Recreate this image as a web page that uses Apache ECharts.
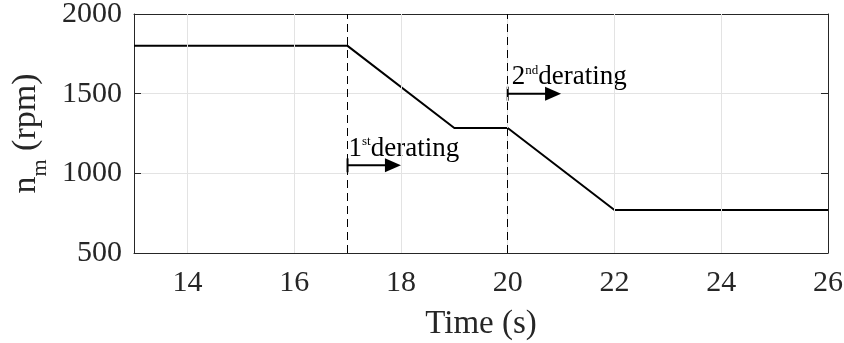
<!DOCTYPE html>
<html>
<head>
<meta charset="utf-8">
<script src="https://cdn.jsdelivr.net/npm/echarts@6/dist/echarts.min.js"></script>
<style>
  html, body { margin: 0; padding: 0; background: #fff; }
  #chart { width: 844px; height: 343px; }
</style>
</head>
<body>
<div id="chart"></div>
<script>
// Motor speed profile with two derating steps
const time = [13, 17, 19, 20, 22, 26];
const speed = [1800, 1800, 1285, 1285, 770, 770];

// Derating events: start time, arrow end time, arrow level (rpm)
const deratingStart = [17, 20];
const deratingArrowEnd = [18, 21];
const deratingArrowLevel = [1050, 1500];
const deratingOrdinal = ['1', '2'];
const deratingSuffix = ['st', 'nd'];

const xTicks = [14, 16, 18, 20, 22, 24, 26];
const yTicks = [500, 1000, 1500, 2000];

const FONT = '"Liberation Serif", "Times New Roman", serif';
const AXIS_COLOR = '#262626';
const GRID_COLOR = '#e3e3e3';

const chart = echarts.init(document.getElementById('chart'), null, { renderer: 'canvas' });

const lineData = time.map((t, i) => [t, speed[i]]);
const arrowData = deratingStart.map((t, i) => [t, deratingArrowEnd[i], deratingArrowLevel[i]]);

function baseX(extra) {
  return Object.assign({
    type: 'value', min: 13, max: 26,
    axisLine: { show: true, onZero: false, lineStyle: { color: AXIS_COLOR, width: 1 } },
    axisTick: { show: true, inside: true, length: 7, customValues: xTicks, lineStyle: { color: AXIS_COLOR } },
    splitLine: { show: false }
  }, extra);
}
function baseY(extra) {
  return Object.assign({
    type: 'value', min: yTicks[0], max: yTicks[yTicks.length - 1], interval: 500,
    axisLine: { show: true, onZero: false, lineStyle: { color: AXIS_COLOR, width: 1 } },
    axisTick: { show: true, inside: true, length: 7, lineStyle: { color: AXIS_COLOR } },
    splitLine: { show: false }
  }, extra);
}

const option = {
  animation: false,
  backgroundColor: '#fff',
  grid: { left: 134, right: 16, top: 14, bottom: 90, containLabel: false, outerBoundsMode: 'none' },
  xAxis: [
    baseX({
      position: 'bottom',
      name: 'Time (s)', nameLocation: 'middle', nameGap: 55,
      nameTextStyle: { fontFamily: FONT, fontSize: 33, color: '#262626' },
      axisLabel: { show: true, customValues: xTicks, margin: 15, fontFamily: FONT, fontSize: 30, color: '#262626' },
      splitLine: { show: false }
    }),
    baseX({ position: 'top', axisLabel: { show: false } })
  ],
  yAxis: [
    baseY({
      position: 'left',
      name: '{n|n}{sub|m}{n| (rpm)}', nameLocation: 'middle', nameGap: 60, nameRotate: 90,
      nameTextStyle: {
        fontFamily: FONT, fontSize: 34, color: '#262626',
        rich: {
          n: { fontFamily: FONT, fontSize: 34, color: '#262626', lineHeight: 34, verticalAlign: 'top' },
          sub: { fontFamily: FONT, fontSize: 22, color: '#262626', lineHeight: 62, verticalAlign: 'middle' }
        }
      },
      axisLabel: { show: true, margin: 12, fontFamily: FONT, fontSize: 30, color: '#262626', formatter: v => String(v) },
      splitLine: { show: true, lineStyle: { color: GRID_COLOR, width: 1 } }
    }),
    baseY({ position: 'right', axisLabel: { show: false } })
  ],
  series: [
    {
      // vertical grid lines at the labelled time ticks
      type: 'line',
      data: [],
      markLine: {
        silent: true, symbol: 'none', label: { show: false },
        lineStyle: { color: GRID_COLOR, width: 1, type: 'solid' },
        data: xTicks.slice(0, -1).map(v => ({ xAxis: v }))
      },
      z: 1
    },
    {
      type: 'line',
      data: lineData,
      showSymbol: false,
      symbol: 'none',
      lineStyle: { color: '#000', width: 2 },
      markLine: {
        silent: true, symbol: 'none', label: { show: false },
        lineStyle: { color: '#000', width: 1, type: [8, 5] },
        data: deratingStart.map(v => ({ xAxis: v }))
      },
      z: 3
    },
    {
      type: 'custom',
      data: arrowData,
      encode: { x: [0, 1], y: 2 },
      z: 4,
      renderItem: function (params, api) {
        const i = params.dataIndex;
        const s = api.coord([api.value(0), api.value(2)]);
        const e = api.coord([api.value(1), api.value(2)]);
        const head = 16, half = 7, y = s[1];
        return {
          type: 'group',
          children: [
            { type: 'line', shape: { x1: s[0], y1: y, x2: e[0] - head + 1, y2: y }, style: { stroke: '#000', lineWidth: 2 } },
            { type: 'line', shape: { x1: s[0], y1: y - half, x2: s[0], y2: y + half }, style: { stroke: '#000', lineWidth: 2 } },
            { type: 'polygon', shape: { points: [[e[0] - head, y - half], [e[0], y], [e[0] - head, y + half]] }, style: { fill: '#000' } },
            {
              type: 'text',
              style: {
                x: s[0] + 1 + (i === 1 ? 3 : 0), y: y - 3,
                text: deratingOrdinal[i] + '{sup|' + deratingSuffix[i] + '}derating',
                font: '27px ' + FONT,
                fill: '#000',
                align: 'left', verticalAlign: 'bottom',
                rich: {
                  sup: { fontFamily: FONT, fontSize: 13, verticalAlign: 'top', lineHeight: 13 }
                }
              }
            }
          ]
        };
      }
    }
  ]
};

chart.setOption(option);
</script>
</body>
</html>
